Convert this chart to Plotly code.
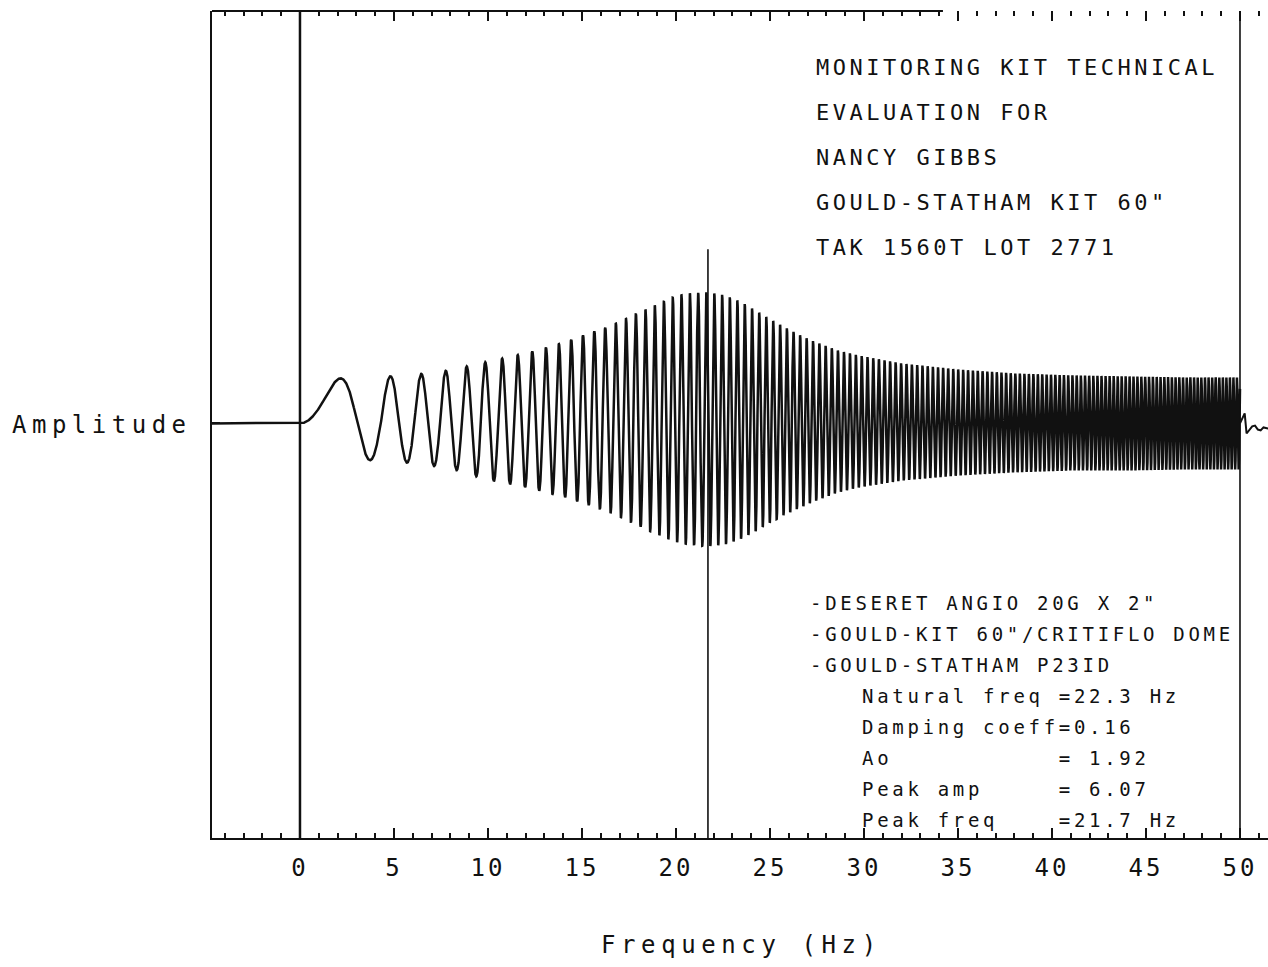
import json
import numpy as np
import plotly.graph_objects as go

# Results printed on the plot
natural_freq = 22.3   # Hz
damping_coeff = 0.16
ao = 1.92
peak_amp = 6.07
peak_freq = 21.7      # Hz

title_lines = [
    "MONITORING KIT TECHNICAL",
    "EVALUATION FOR",
    "NANCY GIBBS",
    "GOULD-STATHAM KIT 60\"",
    "TAK 1560T LOT 2771",
]
setup_lines = [
    "-DESERET ANGIO 20G X 2\"",
    "-GOULD-KIT 60\"/CRITIFLO DOME",
    "-GOULD-STATHAM P23ID",
]
result_lines = [
    f"Natural freq ={natural_freq} Hz",
    f"Damping coeff={damping_coeff}",
    f"Ao           = {ao}",
    f"Peak amp     = {peak_amp}",
    f"Peak freq    ={peak_freq} Hz",
]

# Linear sine sweep: frequency rises at a constant rate (Hz per second)
sweep_rate = 9.25
sweep_end = 50.0

# Envelope of the recorded response, above and below the baseline
env_freq = [0, 2, 4, 6, 8, 10, 12, 14, 15, 16.3, 17.4, 18.5, 19.5, 20.4, 21.7,
            22.6, 23.5, 24.3, 25.0, 25.8, 26.5, 27.2, 27.9, 28.6, 29.7, 32, 35,
            38, 41, 44, 47, 50]
env_upper = [2.15, 2.15, 2.22, 2.32, 2.55, 2.95, 3.35, 3.85, 4.20, 4.60, 5.05,
             5.50, 5.90, 6.20, 6.27, 6.12, 5.79, 5.36, 4.98, 4.59, 4.26, 3.97,
             3.73, 3.49, 3.25, 2.87, 2.58, 2.39, 2.30, 2.25, 2.20, 2.20]
env_lower = [1.69, 1.69, 1.77, 1.90, 2.15, 2.70, 3.05, 3.50, 3.80, 4.20, 4.65,
             5.10, 5.50, 5.78, 5.87, 5.79, 5.50, 5.12, 4.74, 4.35, 4.07, 3.78,
             3.54, 3.30, 3.06, 2.73, 2.49, 2.34, 2.25, 2.25, 2.20, 2.20]

# Ringing after the sweep stops
tail_freq = [50.0, 50.15, 50.25, 50.35, 50.5, 50.65, 50.8, 50.95, 51.1, 51.25, 51.5]
tail_amp = [0.0, 0.29, 0.48, -0.48, -0.33, -0.14, -0.10, -0.29, -0.33, -0.19, -0.24]

tick_vals = [0, 5, 10, 15, 20, 25, 30, 35, 40, 45, 50]
tick_text = ["0", "5", "10", "15", "20", "25", "30", "35", "40", "45", "50"]

# Axis ranges
x_lo, x_hi = -4.68, 51.49
y_lo, y_hi = -19.81, 19.71

# Build the swept-sine response
f = np.linspace(0.0, sweep_end, 30000)
s = np.sin(np.pi * f ** 2 / sweep_rate)
up = np.interp(f, env_freq, env_upper)
lo = np.interp(f, env_freq, env_lower)
amp = np.where(s >= 0, s * up, s * lo)
wave_x = np.concatenate([[x_lo], f])
wave_y = np.concatenate([[0.0], amp])

FONT = "DejaVu Sans Mono"
INK = "#111111"

fig = go.Figure()
fig.add_trace(go.Scatter(x=wave_x, y=wave_y, mode="lines",
                         line=dict(color=INK, width=2.5), hoverinfo="skip",
                         showlegend=False))
fig.add_trace(go.Scatter(x=tail_freq, y=tail_amp, mode="lines", xaxis="x2",
                         line=dict(color=INK, width=2.0), hoverinfo="skip",
                         showlegend=False))

axis_common = dict(
    range=[x_lo, x_hi], showgrid=False, zeroline=False,
    ticks="inside", ticklen=10, tickwidth=2, tickcolor=INK,
    tickmode="array", tickvals=tick_vals,
    minor=dict(dtick=1, tick0=0, ticks="inside", ticklen=5, tickwidth=2,
               tickcolor=INK, showgrid=False),
)

fig.update_layout(
    width=1268, height=967,
    margin=dict(l=212, r=0, t=11, b=129),
    paper_bgcolor="white", plot_bgcolor="white",
    font=dict(family=FONT, color=INK),
    xaxis=dict(**axis_common, ticktext=tick_text, showline=True, linewidth=2,
               linecolor=INK, tickfont=dict(family=FONT, size=24, color=INK),
               ticklabelstandoff=7),
    xaxis2=dict(**axis_common, overlaying="x", side="top", matches="x",
                showticklabels=False, showline=False, anchor="y"),
    yaxis=dict(range=[y_lo, y_hi], showgrid=False, zeroline=False,
               showline=True, linewidth=2, linecolor=INK,
               tickmode="array", tickvals=[0], ticks="inside", ticklen=8,
               tickwidth=2, tickcolor=INK, showticklabels=False),
)

# Frame details and marker lines
shapes = [
    dict(type="line", xref="x", yref="paper", x0=x_lo, x1=34.2, y0=1, y1=1,
         line=dict(color=INK, width=2)),
    dict(type="line", xref="x", yref="paper", x0=0, x1=0, y0=0, y1=1,
         line=dict(color=INK, width=2.5)),
    dict(type="line", xref="x", yref="paper", x0=sweep_end, x1=sweep_end, y0=0, y1=1,
         line=dict(color=INK, width=1.6)),
    dict(type="line", xref="x", yref="y", x0=peak_freq, x1=peak_freq, y0=y_lo, y1=8.33,
         line=dict(color=INK, width=1.6)),
]
fig.update_layout(shapes=shapes)

annotations = []
spacing = []
NB = "\u00a0"


def label(text, px, py, size, ls):
    annotations.append(dict(xref="paper", yref="paper", x=(px - 212) / 1056,
                            y=1 - (py - 11) / 827, xanchor="left", align="left",
                            yanchor="middle", showarrow=False,
                            text=text.replace(" ", NB),
                            font=dict(family=FONT, size=size, color=INK)))
    spacing.append(ls)


for i, t in enumerate(title_lines):
    label(t, 814, 67.5 + 45 * i, 22, 3.5)
for i, t in enumerate(setup_lines + result_lines):
    label(t, 808 if i < len(setup_lines) else 860, 603 + 31 * i, 19, 3.7)
label("Amplitude", 10, 425, 24, 5.5)
label("Frequency (Hz)", 599, 945, 24, 5.6)
fig.update_layout(annotations=annotations)

# Wide plotter-style lettering
css = "".join(
    f'g.annotation[data-index="{i}"] text{{letter-spacing:{sp}px !important;}}'
    for i, sp in enumerate(spacing)
) + ".xtick text{letter-spacing:3px !important;}"
post = ("var st=document.createElement('style');st.textContent=" + json.dumps(css) +
        ";document.head.appendChild(st);")

fig.write_html("out.html", post_script=post)
